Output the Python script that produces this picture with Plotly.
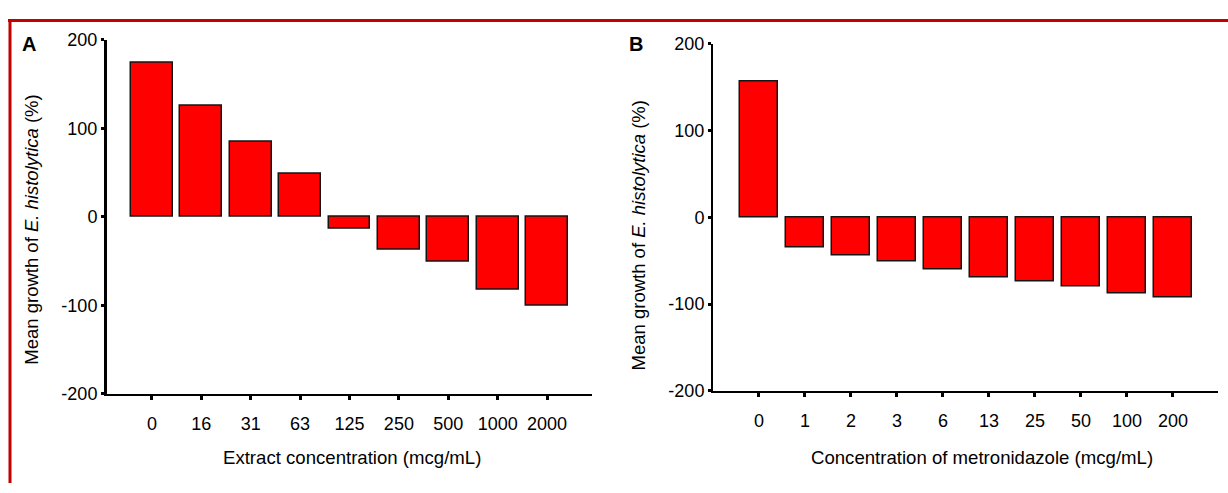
import plotly.graph_objects as go

a_categories = ["0", "16", "31", "63", "125", "250", "500", "1000", "2000"]
a_values = [174, 126, 85, 49, -13, -37, -51, -83, -100]
b_categories = ["0", "1", "2", "3", "6", "13", "25", "50", "100", "200"]
b_values = [156, -35, -44, -51, -60, -69, -74, -80, -88, -92]
y_ticks = [-200, -100, 0, 100, 200]
a_xtitle = "Extract concentration (mcg/mL)"
b_xtitle = "Concentration of metronidazole (mcg/mL)"
ytitle = "Mean growth of <i>E. histolytica</i> (%)"

W, H = 1228, 493
FONT = "Liberation Sans, Arial, sans-serif"


def fx(x):
    return x / W


def fy(y):
    return 1 - y / H


bar_marker = dict(color="#ff0000", line=dict(color="#151515", width=1.5))

fig = go.Figure()
fig.add_trace(go.Bar(x=list(range(len(a_categories))), y=a_values, width=0.85,
                     marker=bar_marker, xaxis="x", yaxis="y", showlegend=False))
fig.add_trace(go.Bar(x=list(range(len(b_categories))), y=b_values, width=0.83,
                     marker=bar_marker, xaxis="x2", yaxis="y2", showlegend=False))

common_x = dict(showline=True, linecolor="black", ticks="outside", ticklen=4, tickwidth=3,
                tickcolor="black", showgrid=False, zeroline=False,
                tickfont=dict(family=FONT, size=18, color="black"), ticklabelstandoff=9)
common_y = dict(showline=True, linecolor="black", ticks="outside", ticklen=3, tickwidth=3,
                tickcolor="black", showgrid=False, zeroline=False, range=[-200, 200],
                tickvals=y_ticks, ticktext=[str(v) for v in y_ticks],
                tickfont=dict(family=FONT, size=18, color="black"), ticklabelstandoff=0)

fig.update_layout(
    width=W, height=H, margin=dict(l=0, r=0, t=0, b=0),
    paper_bgcolor="white", plot_bgcolor="white", bargap=0,
    font=dict(family=FONT, color="black"),
    xaxis=dict(domain=[fx(107), fx(592)], range=[-0.91, 8.91], anchor="y",
               tickvals=list(range(len(a_categories))), ticktext=a_categories,
               linewidth=2, **common_x),
    yaxis=dict(domain=[fy(400), fy(31)], anchor="x", linewidth=3, **common_y),
    xaxis2=dict(domain=[fx(713), fx(1218)], range=[-1.0, 9.98], anchor="y2",
                tickvals=list(range(len(b_categories))), ticktext=b_categories,
                linewidth=2, **common_x),
    yaxis2=dict(domain=[fy(397), fy(35)], anchor="x2", linewidth=2, **common_y),
)

ann = [
    dict(text="<b>A</b>", x=fx(29), y=fy(35), font=dict(size=20)),
    dict(text="<b>B</b>", x=fx(636), y=fy(35), font=dict(size=20)),
    dict(text=a_xtitle, x=fx(352), y=fy(466), font=dict(size=18.6)),
    dict(text=b_xtitle, x=fx(982), y=fy(466), font=dict(size=18.6)),
    dict(text=ytitle, x=fx(32), y=fy(229), textangle=-90, font=dict(size=18.5)),
    dict(text=ytitle, x=fx(638), y=fy(235), textangle=-90, font=dict(size=18.5)),
]
for a in ann:
    a.update(xref="paper", yref="paper", showarrow=False, xanchor="center", yanchor="middle")
    a["font"].update(family=FONT, color="black")
    fig.add_annotation(**a)

fig.add_shape(type="line", xref="paper", yref="paper", x0=fx(8), x1=1, y0=fy(11), y1=fy(11),
              line=dict(color="#c40000", width=3))
fig.add_shape(type="line", xref="paper", yref="paper", x0=fx(10), x1=fx(10), y0=fy(11), y1=0,
              line=dict(color="#c40000", width=3))

css_fix = (
    "var s=document.createElement('style');"
    "s.textContent='html,body{margin:0!important;padding:0!important;overflow:hidden!important;}';"
    "document.head.appendChild(s);"
)
fig.write_html("out.html", config={"displayModeBar": False}, post_script=css_fix)
